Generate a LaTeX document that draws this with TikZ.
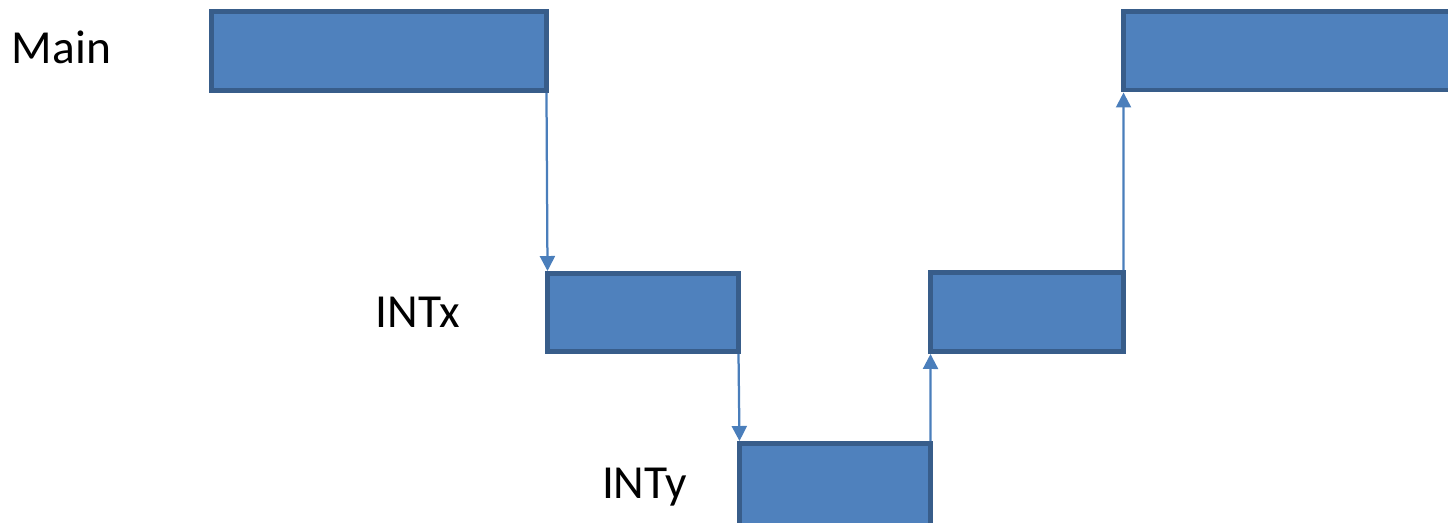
\documentclass[tikz,border=0pt]{standalone}
\usepackage{fontspec}
\setmainfont{Carlito}
\usetikzlibrary{arrows.meta}

\definecolor{blkfill}{HTML}{4F81BD}
\definecolor{blkline}{HTML}{385D8A}
\definecolor{linkcol}{HTML}{4A7EBB}

\begin{document}
\begin{tikzpicture}[x=0.02cm, y=-0.02cm,
  blk/.style={draw=blkline, fill=blkfill, line width=0.1cm, inner sep=0pt, outer sep=0pt},
  lbl/.style={anchor=base, font=\fontsize{27}{32}\selectfont},
  link/.style={-{Triangle[length=0.3cm,width=0.3cm]}, draw=linkcol, line width=0.045cm,
    shorten >=0.05cm, shorten <=0.05cm}]
  \useasboundingbox (0,0) rectangle (1448,522);

  % call levels
  \node[blk, minimum width=6.7cm, minimum height=1.58cm] (main) at (379,51) {};
  \node[blk, minimum width=3.82cm, minimum height=1.56cm] (intx) at (643,312.5) {};
  \node[blk, minimum width=3.82cm, minimum height=1.7cm] (inty) at (835,486) {};
  \node[blk, minimum width=3.86cm, minimum height=1.58cm] (back) at (1027,312) {};
  \node[blk, minimum width=6.7cm, minimum height=1.58cm] (ret) at (1291,50.5) {};

  \node[lbl] (lmain) at (61.5,63) {Main};
  \node[lbl] (lintx) at (417.5,327) {INTx};
  \node[lbl] (linty) at (644.5,498) {INTy};

  \draw[link] (main.south east) -- (intx.north west);
  \draw[link] (intx.south east) -- (inty.north west);
  \draw[link] (inty.north east) -- (back.south west);
  \draw[link] (back.north east) -- (ret.south west);
\end{tikzpicture}
\end{document}
